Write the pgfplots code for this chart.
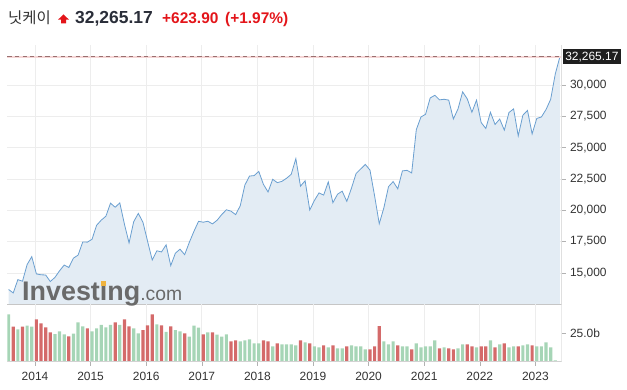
\documentclass[border=0pt]{standalone}
\usepackage{pgfplots}
\pgfplotsset{compat=1.18}
\usepackage{pgfplotstable}
\usepackage{fontspec}
\setmainfont{Liberation Sans}
\newfontfamily\kr{Noto Sans CJK KR}
\definecolor{linec}{HTML}{6A9FD0}
\definecolor{areac}{HTML}{E3ECF4}
\definecolor{gridc}{HTML}{EDEDED}
\definecolor{vgreen}{HTML}{A6D5B6}
\definecolor{vred}{HTML}{D46A6A}
\definecolor{upred}{HTML}{E3151A}
\definecolor{titlec}{HTML}{2A2E39}
\definecolor{labc}{HTML}{333333}
\definecolor{dashc}{HTML}{9A7070}
\definecolor{pinkl}{HTML}{F6D6D6}
\definecolor{wm}{HTML}{6A6A6A}
\definecolor{wmo}{HTML}{F0B440}

\pgfplotstableread{
m price
-6 13668
-5 13389
-4 14456
-3 14328
-2 15662
-1 16291
0 14915
1 14841
2 14828
3 14304
4 14632
5 15162
6 15621
7 15425
8 16174
9 16414
10 17460
11 17451
12 17674
13 18798
14 19207
15 19520
16 20563
17 20236
18 20585
19 18890
20 17388
21 19083
22 19747
23 19034
24 17518
25 16027
26 16759
27 16666
28 17235
29 15576
30 16569
31 16887
32 16450
33 17425
34 18308
35 19114
36 19041
37 19119
38 18909
39 19197
40 19651
41 20033
42 19925
43 19646
44 20356
45 22012
46 22725
47 22765
48 23098
49 22068
50 21454
51 22468
52 22202
53 22305
54 22554
55 22865
56 24120
57 21920
58 22351
59 20015
60 20773
61 21385
62 21206
63 22259
64 20601
65 21276
66 21522
67 20704
68 21756
69 22927
70 23294
71 23657
72 23205
73 21143
74 18917
75 20194
76 21878
77 22288
78 21710
79 23140
80 23185
81 22977
82 26434
83 27444
84 27663
85 28966
86 29179
87 28813
88 28860
89 28792
90 27284
91 28090
92 29453
93 28893
94 27822
95 28792
96 27002
97 26527
98 27821
99 26848
100 27280
101 26393
102 27802
103 28092
104 25937
105 27587
106 27969
107 26095
108 27327
109 27446
110 28041
111 28856
112 30888
113 32265.17
}\pricetable

\pgfplotstableread{
m v
-6 41.3
-4 28.2
-2 31.4
-1 30.5
4 24.1
5 26.4
6 23.8
8 24.4
9 34.3
10 30.8
12 26.4
13 29.0
14 32.2
15 29.9
16 32.2
18 32.2
21 29.0
22 24.7
26 32.5
28 25.9
30 27.6
31 26.4
33 21.8
34 31.4
35 29.6
37 25.6
39 23.5
40 21.8
41 23.8
44 17.7
45 18.6
46 19.5
47 16.0
48 16.0
51 13.4
53 15.1
54 15.1
55 15.1
56 14.2
58 16.9
60 13.4
61 12.5
63 12.5
65 11.6
66 11.6
68 14.2
69 13.4
70 13.4
71 10.8
75 17.7
76 15.1
77 17.7
79 13.4
80 13.4
82 16.0
83 12.5
84 13.4
85 13.4
86 18.6
88 12.5
91 11.6
92 15.1
95 12.5
98 18.6
100 15.1
102 12.5
103 13.4
105 14.2
106 15.1
108 13.4
109 13.4
110 16.9
111 12.5
112 1.2
113 0.6
}\greentable

\pgfplotstableread{
m v
-5 30.5
-3 30.5
0 36.9
1 33.4
2 29.9
3 25.6
7 22.1
11 29.0
17 34.3
19 36.9
20 30.8
23 27.6
24 31.6
25 41.2
27 31.6
29 30.8
32 24.7
36 23.8
38 25.6
42 17.7
43 18.6
49 18.6
50 17.7
52 16.0
57 18.6
59 16.0
62 14.2
64 14.2
67 13.4
72 10.8
73 13.4
74 31.1
78 14.2
81 10.8
87 11.6
89 11.6
90 10.8
93 15.1
94 13.4
96 13.4
97 13.4
99 12.5
101 16.0
104 13.4
107 14.2
}\redtable

\begin{document}
\begin{tikzpicture}
\path[use as bounding box] (0,0) rectangle (627bp,390bp);

% price panel
\begin{axis}[
  at={(7.3bp,86bp)}, anchor=south west,
  scale only axis, width=554.2bp, height=259bp,
  xmin=-5.98, xmax=113.64, ymin=12509, ymax=33195,
  clip mode=individual,
  axis line style={draw=none},
  xtick={0,12,...,108}, xticklabels={},
  xtick style={draw=none},
  ytick={15000,17500,20000,22500,25000,27500,30000},
  scaled y ticks=false,
  ytick pos=right, yticklabel pos=right,
  tick align=outside, major tick length=4bp,
  ytick style={gray!60, line width=0.5bp},
  grid=major, major grid style={gridc, line width=0.6bp},
  yticklabel style={font=\fontsize{12}{13}\selectfont, text=labc, anchor=west, xshift=1bp,
    /pgf/number format/.cd, fixed, 1000 sep={,}, assume math mode=true},
]
\addplot[draw=none, fill=areac] table[x expr=\thisrow{m}+0.3, y=price] {\pricetable} \closedcycle;
\addplot[linec, line width=0.8bp, mark=none] table[x expr=\thisrow{m}+0.3, y=price] {\pricetable};
\draw[pinkl, line width=1.8bp] (axis cs:-5.98,32265.17) -- (axis cs:113.64,32265.17);
\draw[dashc, line width=1.2bp, dash pattern=on 4.3bp off 3.3bp] (axis cs:-5.98,32265.17) -- (axis cs:113.64,32265.17);
\draw[gray!45, line width=0.6bp] (rel axis cs:0,0) -- (rel axis cs:1,0);
\draw[gray!25, line width=0.6bp] (rel axis cs:1,0) -- (rel axis cs:1,1);
\node[anchor=west, fill=black!88, text=white, inner sep=2.6bp, xshift=1bp, font=\fontsize{12}{13}\selectfont] at (axis cs:113.64,32265.17) {32,265.17};
\end{axis}

% volume panel
\begin{axis}[
  at={(7.3bp,28.3bp)}, anchor=south west,
  scale only axis, width=554.2bp, height=57.7bp,
  xmin=-5.98, xmax=113.64, ymin=0, ymax=50.3,
  axis line style={draw=none},
  xtick={0,12,...,108},
  xticklabels={2014,2015,2016,2017,2018,2019,2020,2021,2022,2023},
  ytick={25}, yticklabels={25.0b},
  ytick pos=right, yticklabel pos=right,
  xtick pos=bottom,
  tick align=outside, major tick length=4bp,
  tick style={gray!60, line width=0.5bp},
  xmajorgrids, major grid style={gridc, line width=0.6bp},
  yticklabel style={font=\fontsize{12}{13}\selectfont, text=labc, anchor=west, xshift=1bp},
  xticklabel style={font=\fontsize{12}{13}\selectfont, text=labc, yshift=-3bp},
]
\addplot[ybar, bar shift=0pt, bar width=3.2bp, fill=vgreen, draw=none] table[x expr=\thisrow{m}+0.3, y=v] {\greentable};
\addplot[ybar, bar shift=0pt, bar width=3.2bp, fill=vred, draw=none] table[x expr=\thisrow{m}+0.3, y=v] {\redtable};
\draw[gray!35, line width=0.6bp] (rel axis cs:0,0) -- (rel axis cs:1,0);
\draw[gray!25, line width=0.6bp] (rel axis cs:1,0) -- (rel axis cs:1,1);
\end{axis}

% watermark
\node[anchor=base west, inner sep=0, text=wm] at (22bp,89.3bp)
  {\fontsize{27}{28}\selectfont\bfseries Invest\ooalign{ı\cr\hidewidth\raisebox{0.56em}{\color{wmo}\rule{0.2em}{0.17em}}\hidewidth\cr}ng\mdseries\fontsize{19.4}{20}\selectfont.com};

% title
\node[anchor=base west, inner sep=0, text=labc] at (8bp,366.7bp) {\kr\fontsize{15.5}{17}\selectfont 닛케이};
\fill[upred] (58bp,370.3bp) -- (63.5bp,375.6bp) -- (69bp,370.3bp) -- (66bp,370.3bp) -- (66bp,366.7bp) -- (61bp,366.7bp) -- (61bp,370.3bp) -- cycle;
\node[anchor=base west, inner sep=0, text=titlec] at (75bp,366.7bp) {\fontsize{17.5}{19}\selectfont\bfseries 32,265.17};
\node[anchor=base west, inner sep=0, text=upred] at (162bp,366.7bp) {\fontsize{15.5}{17}\selectfont\bfseries +623.90};
\node[anchor=base west, inner sep=0, text=upred] at (225bp,366.7bp) {\fontsize{15.5}{17}\selectfont\bfseries (+1.97\%)};
\end{tikzpicture}
\end{document}
